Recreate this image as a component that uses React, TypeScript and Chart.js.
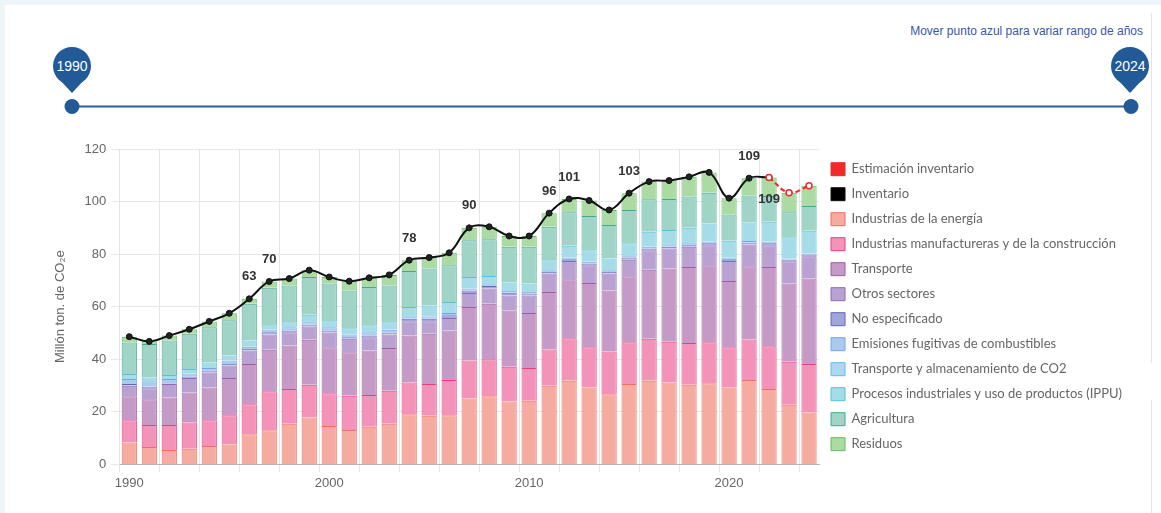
import React, { useEffect, useRef } from 'react';
import { Chart, registerables } from 'chart.js';

Chart.register(...registerables);

const years = ['1990','1991','1992','1993','1994','1995','1996','1997','1998','1999','2000','2001','2002','2003','2004','2005','2006','2007','2008','2009','2010','2011','2012','2013','2014','2015','2016','2017','2018','2019','2020','2021','2022','2023','2024'];

const energia = [8.3,6.6,5.5,6.0,7.0,7.6,11.5,13.0,15.5,17.8,14.6,13.1,14.3,15.5,19.1,18.5,18.7,25.1,25.9,23.9,24.2,29.9,31.8,29.3,26.7,30.6,31.8,31.2,30.3,30.9,29.3,32.1,28.7,22.7,19.7];
const manufactura = [8.5,8.4,9.5,9.9,9.8,11.1,11.4,14.8,13.2,12.5,12.5,13.0,12.1,12.5,12.1,12.1,13.4,14.4,14.1,13.3,12.5,13.8,16.2,15.3,16.3,15.9,16.0,15.5,15.9,15.6,15.3,15.4,16.3,16.4,18.5];
const transporte = [9.1,9.8,10.5,11.5,12.5,14.2,15.3,15.8,16.5,17.1,17.5,16.6,16.9,16.3,17.8,19.1,18.8,20.4,21.1,21.4,20.9,21.9,22.4,24.4,23.2,25.1,26.3,27.8,28.9,29.3,25.2,27.9,30.1,29.7,32.5];
const otrosSectores = [4.0,4.2,5.1,5.5,5.7,4.7,5.1,5.8,5.1,5.1,5.6,5.1,5.1,5.1,5.5,4.8,4.8,5.3,5.8,5.7,6.7,7.0,7.0,6.8,6.4,6.3,7.4,7.6,7.7,7.6,7.6,8.3,8.3,8.5,8.5];
const noEspecificado = [0.7,0.5,0.3,0.5,0.7,0.6,0.6,0.9,0.6,0.6,0.7,0.6,0.6,0.8,0.9,0.9,1.0,1.0,1.0,1.0,0.7,0.6,0.7,0.6,0.6,0.8,0.6,0.7,0.6,0.7,0.7,0.6,0.7,0.6,0.7];
const fugitivas = [1.9,2.1,1.6,1.2,1.0,1.3,0.9,1.0,1.3,1.0,1.3,1.0,1.3,1.0,0.6,0.9,0.9,0.7,0.6,0.7,0.6,0.7,0.6,0.7,0.7,0.5,0.7,0.6,0.7,0.6,0.6,0.7,0.6,0.4,0.3];
const transporteCO2 = [0,0,0,0,0,0,0,0,0,0,0,0,0,0,0,0,0,0,0,0,0,0,0,0,0,0,0,0,0,0,0,0,0,0,0];
const ippu = [1.9,1.5,1.5,1.7,2.1,1.9,2.3,1.6,1.9,2.8,2.3,2.4,2.6,2.9,3.9,4.2,4.2,4.4,3.2,3.2,3.2,3.8,4.5,4.4,4.4,4.9,5.7,5.8,5.9,7.0,6.4,7.0,7.6,8.1,8.7];
const agricultura = [12.0,12.7,13.1,13.4,13.4,13.4,14.0,14.3,14.0,14.4,14.3,14.4,14.6,14.0,13.7,14.0,14.0,14.0,14.0,13.6,14.0,12.7,12.7,13.0,12.8,12.7,12.4,11.8,11.9,11.7,10.0,10.3,9.8,9.5,9.4];
const residuos = [2.2,1.0,1.9,1.7,2.2,2.7,1.9,2.4,2.6,2.6,2.5,3.5,3.5,4.0,4.1,4.2,4.7,4.7,4.7,4.1,4.1,5.2,5.1,5.9,5.7,6.4,6.7,7.0,7.5,7.7,6.2,6.6,7.1,7.5,7.7];

const inventario = [48.6,46.8,49.0,51.4,54.4,57.5,63.0,69.6,70.7,73.9,71.3,69.7,71.0,72.1,77.7,78.7,80.5,90.0,90.4,86.9,86.9,95.6,101.0,100.4,96.8,103.2,107.6,108.0,109.4,111.1,101.3,108.9,109.2,null,null];
const estimacion = [null,null,null,null,null,null,null,null,null,null,null,null,null,null,null,null,null,null,null,null,null,null,null,null,null,null,null,null,null,null,null,null,109.2,103.4,106.0];

const labelYearsAbove = ['1996','1997','2004','2007','2011','2012','2015','2021'];
const labelYearsBelowEst = ['2022'];

const sectorNames = ['Industrias de la energía','Industrias manufactureras y de la construcción','Transporte','Otros sectores','No especificado','Emisiones fugitivas de combustibles','Transporte y almacenamiento de CO2','Procesos industriales y uso de productos (IPPU)','Agricultura','Residuos'];
const sectorValues = [energia, manufactura, transporte, otrosSectores, noEspecificado, fugitivas, transporteCO2, ippu, agricultura, residuos];
const sectorFill = ['#F6ABA0','#F393BA','#C69AC7','#B9A2D2','#A1A6DA','#A9CBEE','#AAD9F6','#A6DCE7','#9FD4C7','#ABDAA3'];
const sectorBorder = ['#F26F5E','#EC3C82','#A35BA6','#9068BA','#6068BE','#72A7E2','#62BCEE','#4EC5DC','#42A991','#62BD61'];

const FONT = '"Liberation Sans", Arial, sans-serif';
const LEGEND_MIN_WIDTH = 330;

const legendFitPlugin = {
  id: 'legendFit',
  beforeLayout(chart: any) {
    const lg = chart.legend;
    if (lg && !lg.__patched) {
      const orig = lg.update.bind(lg);
      lg.update = (maxWidth: number, maxHeight: number, margins: any) =>
        orig(Math.max(maxWidth, LEGEND_MIN_WIDTH), maxHeight, margins);
      lg.__patched = true;
    }
  },
};

const labelPlugin = {
  id: 'pointLabels',
  afterDatasetsDraw(chart: any) {
    const ctx = chart.ctx;
    ctx.save();
    ctx.font = 'bold 13px ' + FONT;
    ctx.fillStyle = '#333';
    ctx.textAlign = 'center';
    ctx.textBaseline = 'middle';
    const invMeta = chart.getDatasetMeta(1);
    labelYearsAbove.forEach((y) => {
      const i = years.indexOf(y);
      const pt = invMeta.data[i];
      if (pt) ctx.fillText(String(Math.round(inventario[i] as number)), pt.x, pt.y - 22);
    });
    const estMeta = chart.getDatasetMeta(0);
    labelYearsBelowEst.forEach((y) => {
      const i = years.indexOf(y);
      const pt = estMeta.data[i];
      if (pt) ctx.fillText(String(Math.round(estimacion[i] as number)), pt.x, pt.y + 22);
    });
    ctx.restore();
  },
};

export default function App() {
  const ref = useRef<HTMLCanvasElement>(null);

  useEffect(() => {
    document.body.style.margin = '0';
    Chart.defaults.font.family = FONT;
    const datasets: any[] = [
      {
        type: 'line',
        label: 'Estimación inventario',
        data: estimacion,
        stack: 'est',
        order: 0,
        borderColor: '#EE2B2B',
        backgroundColor: '#EE2B2B',
        borderWidth: 2,
        borderDash: [5, 3],
        pointRadius: 3,
        pointBackgroundColor: '#ffffff',
        pointBorderColor: '#EE2B2B',
        pointBorderWidth: 1.5,
        tension: 0.4,
        fill: false,
      },
      {
        type: 'line',
        label: 'Inventario',
        data: inventario,
        stack: 'inv',
        order: 1,
        borderColor: '#111111',
        backgroundColor: '#000000',
        borderWidth: 2,
        pointRadius: 3,
        pointBorderWidth: 1,
        pointBackgroundColor: '#222222',
        pointBorderColor: '#111111',
        tension: 0.4,
        fill: false,
      },
      ...sectorNames.map((name, k) => ({
        type: 'bar',
        label: name,
        data: sectorValues[k],
        stack: 'sectores',
        order: 2,
        backgroundColor: sectorFill[k],
        borderColor: sectorBorder[k],
        borderWidth: 1,
        barPercentage: 0.95,
        categoryPercentage: 0.8,
      })),
    ];

    const chart = new Chart(ref.current as HTMLCanvasElement, {
      type: 'bar',
      data: { labels: years, datasets },
      options: {
        responsive: false,
        animation: false,
        devicePixelRatio: 1,
        layout: { padding: { left: 13, right: 18, top: 19, bottom: 19 } },
        plugins: {
          legend: {
            position: 'right',
            fullSize: false,
            labels: {
              boxWidth: 14,
              boxHeight: 13,
              padding: 12,
              color: '#666',
              font: { family: 'Lato, "Noto Sans", sans-serif', size: 13 },
              generateLabels: (c: any) =>
                (Chart.defaults.plugins.legend.labels as any)
                  .generateLabels(c)
                  .map((l: any) => ({ ...l, lineDash: [], lineWidth: 1 })),
            },
          },
          tooltip: { enabled: false },
        },
        scales: {
          x: {
            stacked: true,
            grid: {
              offset: true,
              tickLength: 8,
              color: (ctx: any) => (typeof ctx.index === 'number' && ctx.index % 2 === 0 ? '#e4e4e4' : 'rgba(0,0,0,0)'),
            },
            border: { color: '#b5b5b5' },
            ticks: {
              autoSkip: false,
              maxRotation: 0,
              color: '#666',
              font: { size: 13 },
              callback: (_v: any, i: number) => (Number(years[i]) % 10 === 0 ? years[i] : ''),
            },
          },
          y: {
            stacked: true,
            min: 0,
            max: 120,
            border: { color: '#e4e4e4' },
            grid: { color: '#e8e8e8', tickLength: 8 },
            ticks: { stepSize: 20, color: '#666', font: { size: 13 }, padding: 5 },
            title: {
              display: true,
              text: 'Millón ton. de CO₂e',
              color: '#666',
              font: { size: 13 },
              padding: { top: 0, bottom: 11 },
            },
          },
        },
      },
      plugins: [legendFitPlugin, labelPlugin],
    } as any);
    return () => chart.destroy();
  }, []);

  const pin = (cx: number, label: string) => (
    <g>
      <circle cx={cx} cy={66} r={19} fill="#215A96" />
      <polygon points={`${cx - 12},${80} ${cx + 12},${80} ${cx},${93}`} fill="#215A96" />
      <text x={cx} y={67} fill="#fff" fontSize={14} textAnchor="middle" dominantBaseline="middle" fontFamily={FONT}>
        {label}
      </text>
    </g>
  );

  return (
    <div style={{ position: 'relative', width: 1161, height: 513, background: '#EEF5F8', overflow: 'hidden' }}>
      <div style={{ position: 'absolute', left: 5, top: 5, width: 1156, height: 508, background: '#fff' }} />
      <div style={{ position: 'absolute', left: 1151, top: 13, width: 1, height: 350, background: '#e1e5ea' }} />
      <div style={{ position: 'absolute', left: 1151, top: 400, width: 1, height: 113, background: '#e1e5ea' }} />
      <svg width={1161} height={130} style={{ position: 'absolute', left: 0, top: 0 }}>
        <line x1={72} y1={106.5} x2={1131} y2={106.5} stroke="#2B5E9A" strokeWidth={2} />
        <circle cx={72} cy={106.5} r={7.5} fill="#215A96" />
        <circle cx={1131} cy={106.5} r={7.5} fill="#215A96" />
        {pin(72, '1990')}
        {pin(1130, '2024')}
      </svg>
      <div
        style={{
          position: 'absolute',
          right: 1161 - 1143,
          top: 24,
          fontFamily: FONT,
          fontSize: 12,
          color: '#3A57A6',
          whiteSpace: 'nowrap',
        }}
      >
        Mover punto azul para variar rango de años
      </div>
      <div style={{ position: 'absolute', left: 40, top: 130 }}>
        <canvas ref={ref} width={1110} height={383} style={{ width: 1110, height: 383, display: 'block' }} />
      </div>
    </div>
  );
}
